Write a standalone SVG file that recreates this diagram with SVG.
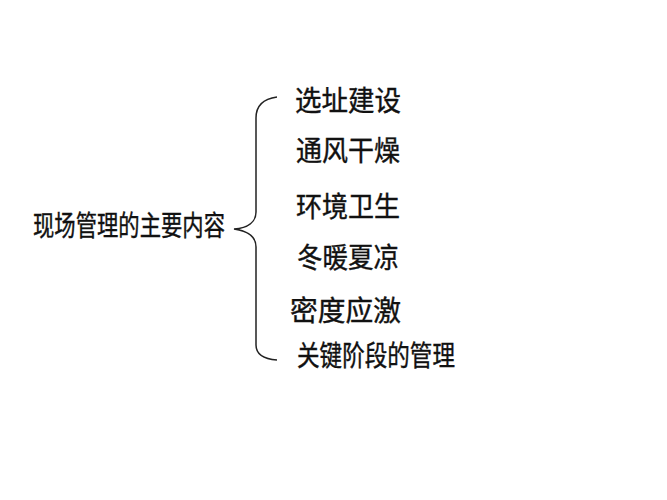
<svg xmlns="http://www.w3.org/2000/svg" width="667" height="500" viewBox="0 0 667 500">
<style>
text{font-family:"Noto Sans CJK SC","Noto Sans",sans-serif;fill:#111;font-size:28px;stroke:#111;stroke-width:0.4}
.brace{fill:none;stroke:#222;stroke-width:1.5}
</style>
<rect width="667" height="500" fill="#fff"/>
<g id="root"><text x="33" y="236" font-size="31" textLength="192" lengthAdjust="spacingAndGlyphs">现场管理的主要内容</text></g>
<g id="connectors"><path class="brace" d="M277,97 C262,99 256,106 256,118 L256,212 C256,222 248,228 234,229 C248,231 256,237 256,247 L256,345 C256,354 264,359 277,360"/></g>
<g id="n1"><text x="295" y="111" textLength="106" lengthAdjust="spacingAndGlyphs">选址建设</text></g>
<g id="n2"><text x="296" y="161" textLength="104" lengthAdjust="spacingAndGlyphs">通风干燥</text></g>
<g id="n3"><text x="296" y="217" textLength="104" lengthAdjust="spacingAndGlyphs">环境卫生</text></g>
<g id="n4"><text x="297" y="268" textLength="102" lengthAdjust="spacingAndGlyphs">冬暖夏凉</text></g>
<g id="n5"><text x="290" y="321" textLength="111" lengthAdjust="spacingAndGlyphs">密度应激</text></g>
<g id="n6"><text x="297" y="366" textLength="158" lengthAdjust="spacingAndGlyphs">关键阶段的管理</text></g>
</svg>
